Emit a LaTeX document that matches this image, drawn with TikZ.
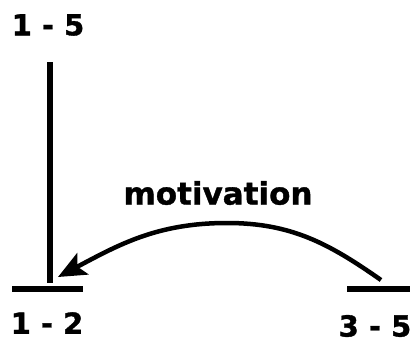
\documentclass[tikz,border=0pt]{standalone}
\usepackage{fontspec}
\setmainfont{DejaVu Sans}[BoldFeatures={FakeBold=1.2}]
\usetikzlibrary{arrows.meta}
\begin{document}
\begin{tikzpicture}[x=1pt,y=-1pt,
  lbl/.style={font=\bfseries\fontsize{29}{32}\selectfont, inner sep=0pt},
  mot/.style={font=\bfseries\fontsize{31}{34}\selectfont, inner sep=0pt},
  bar/.style={line width=5.5pt},
  conn/.style={line width=4.5pt, -{Stealth[length=28pt,width=24pt,inset=6pt]}}]
\useasboundingbox (0,0) rectangle (410,343);
\node[lbl] (t15) at (48,25) {1 - 5};
\node[lbl] (t12) at (47,323) {1 - 2};
\node[lbl] (t35) at (375,326) {3 - 5};
\node[mot] (motiv) at (218,193) {motivation};
\coordinate (vtop) at (50,62);
\coordinate (vbot) at (50,283);
\coordinate (lbl1) at (12,289);
\coordinate (lbr1) at (83,289);
\coordinate (rbl) at (347,289);
\coordinate (rbr) at (410,289);
\coordinate (astart) at (381,280);
\coordinate (apeak) at (227,223);
\coordinate (aend) at (58,277);
\draw[bar] (vtop) -- (vbot);
\draw[bar] (lbl1) -- (lbr1);
\draw[bar] (rbl) -- (rbr);
\draw[conn] (astart) to[out=145,in=0] (apeak) to[out=180,in=28] (aend);
\end{tikzpicture}
\end{document}
